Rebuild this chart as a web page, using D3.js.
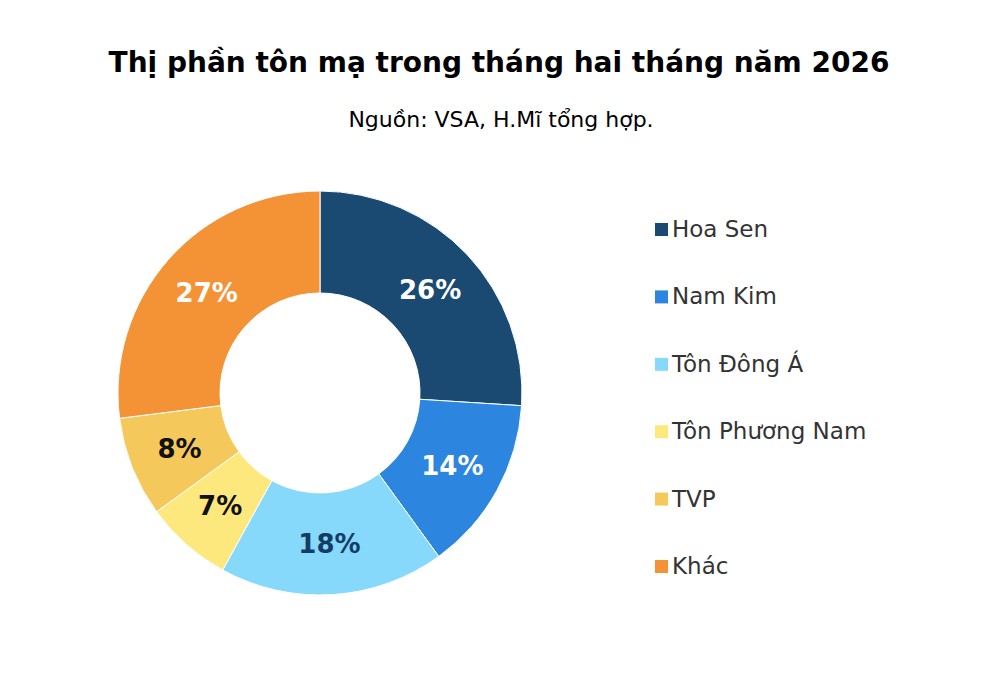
<!DOCTYPE html>
<html><head><meta charset="utf-8">
<script src="https://cdn.jsdelivr.net/npm/d3@7"></script>
<style>body{margin:0;background:#fff}</style>
</head><body>
<svg width="1000" height="676"></svg>
<script>
const categories = ['Hoa Sen', 'Nam Kim', 'Tôn Đông Á', 'Tôn Phương Nam', 'TVP', 'Khác'];
const values = [26, 14, 18, 7, 8, 27];
const colors = ['#1a4a72', '#2c86e0', '#87d9fc', '#fde87e', '#f5c85c', '#f39336'];
const labelColors = ['#fff', '#fff', '#143d66', '#111', '#111', '#fff'];

const svg = d3.select('svg');
const font = '"DejaVu Sans", Verdana, sans-serif';

svg.append('text').attr('x', 499).attr('y', 72).attr('text-anchor', 'middle')
    .attr('font-family', font).attr('font-weight', 700).attr('font-size', 28)
    .text('Thị phần tôn mạ trong tháng hai tháng năm 2026');
svg.append('text').attr('x', 501).attr('y', 127).attr('text-anchor', 'middle')
    .attr('font-family', font).attr('font-size', 22)
    .text('Nguồn: VSA, H.Mĩ tổng hợp.');

const data = categories.map((c, i) => ({cat: c, value: values[i], i}));
const pie = d3.pie().value(d => d.value).sort(null);
const arc = d3.arc().innerRadius(100).outerRadius(202);
const labelArc = d3.arc().innerRadius(151).outerRadius(151);

const g = svg.append('g').attr('transform', 'translate(320,393)');
const arcs = pie(data);
g.selectAll('path').data(arcs).enter().append('path')
    .attr('d', arc).attr('fill', d => colors[d.data.i])
    .attr('stroke', '#fff').attr('stroke-width', 1);
g.selectAll('text').data(arcs).enter().append('text')
    .attr('transform', d => `translate(${labelArc.centroid(d)})`)
    .attr('text-anchor', 'middle').attr('dy', '0.35em')
    .attr('font-family', font).attr('font-weight', 700).attr('font-size', 26)
    .attr('fill', d => labelColors[d.data.i])
    .text(d => d.data.value + '%');

const y = d3.scalePoint().domain(categories).range([229, 566]);
const leg = svg.append('g').selectAll('g').data(categories).enter().append('g')
    .attr('transform', d => `translate(655,${y(d)})`);
leg.append('rect').attr('x', 0).attr('y', -6).attr('width', 13).attr('height', 13)
    .attr('fill', (d, i) => colors[i]);
leg.append('text').attr('x', 17).attr('dy', '0.35em')
    .attr('font-family', font).attr('font-size', 23).attr('fill', '#333')
    .text(d => d);
</script>
</body></html>
